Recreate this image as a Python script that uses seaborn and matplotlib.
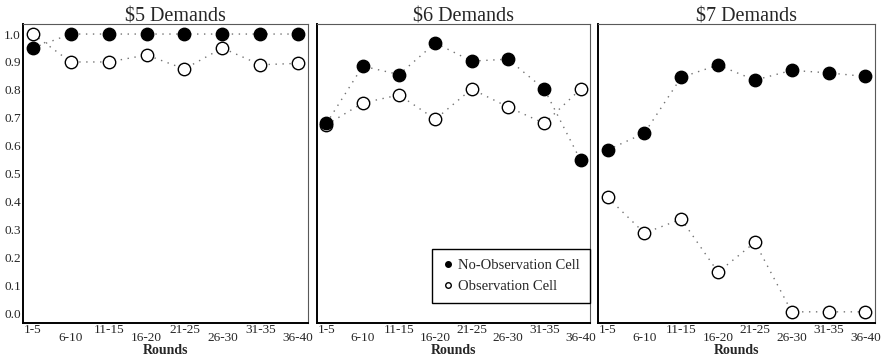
import pandas as pd
import seaborn as sns
import matplotlib.pyplot as plt
from matplotlib.lines import Line2D

rounds = ['1-5', '6-10', '11-15', '16-20', '21-25', '26-30', '31-35', '36-40']
demands = ['$5', '$6', '$7']

no_obs_5 = [0.95, 1.0, 1.0, 1.0, 1.0, 1.0, 1.0, 1.0]
obs_5 = [1.0, 0.90, 0.90, 0.925, 0.875, 0.95, 0.89, 0.895]
no_obs_6 = [0.68, 0.885, 0.855, 0.968, 0.903, 0.91, 0.803, 0.548]
obs_6 = [0.675, 0.753, 0.782, 0.695, 0.803, 0.739, 0.68, 0.803]
no_obs_7 = [0.585, 0.645, 0.845, 0.889, 0.835, 0.87, 0.861, 0.848]
obs_7 = [0.415, 0.287, 0.337, 0.147, 0.254, 0.005, 0.005, 0.005]

series = {
    ('$5', 'No-Observation Cell'): no_obs_5,
    ('$5', 'Observation Cell'): obs_5,
    ('$6', 'No-Observation Cell'): no_obs_6,
    ('$6', 'Observation Cell'): obs_6,
    ('$7', 'No-Observation Cell'): no_obs_7,
    ('$7', 'Observation Cell'): obs_7,
}

rows = []
for (d, cell), vals in series.items():
    for i, v in enumerate(vals):
        rows.append({'demand': d, 'cell': cell, 'round': i, 'share': v})
df = pd.DataFrame(rows)

sns.set_style('white')
plt.rcParams['font.family'] = ['Liberation Serif', 'DejaVu Serif']

fig = plt.figure(figsize=(8.87, 3.57), dpi=100)

# posizioni dei pannelli (in frazioni della figura)
lefts = [23 / 887, 317 / 887, 598 / 887]
widths = [285 / 887, 273 / 887, 277 / 887]
bottom = 1 - 323 / 357
height = (323 - 24) / 357

axes = []
for k, d in enumerate(demands):
    ax = fig.add_axes([lefts[k], bottom, widths[k], height])
    axes.append(ax)
    sub = df[df['demand'] == d]
    for cell in ['Observation Cell', 'No-Observation Cell']:
        s = sub[sub['cell'] == cell]
        sns.lineplot(data=s, x='round', y='share', ax=ax, color='0.45',
                     linestyle=(0, (1, 4)), linewidth=1, legend=False)
    s = sub[sub['cell'] == 'Observation Cell']
    sns.scatterplot(data=s, x='round', y='share', ax=ax, s=80,
                    facecolor='white', edgecolor='black', linewidth=1,
                    zorder=3, legend=False)
    s = sub[sub['cell'] == 'No-Observation Cell']
    sns.scatterplot(data=s, x='round', y='share', ax=ax, s=80,
                    color='black', edgecolor='black', linewidth=1,
                    zorder=4, legend=False)

    ax.set_xlim(-0.26, 7.26)
    ax.set_ylim(-0.035, 1.036)
    ax.set_xticks(range(len(rounds)))
    ax.set_xticklabels(rounds, fontsize=9.5)
    ax.set_yticks([i / 10 for i in range(11)])
    if k == 0:
        ax.set_yticklabels([f'{i / 10:.1f}' for i in range(11)], fontsize=9.5)
    else:
        ax.set_yticklabels([])
    ax.tick_params(axis='both', direction='in', length=7, width=1,
                   color='black', pad=1.5)
    ax.tick_params(axis='x', pad=0.5)
    for i, t in enumerate(ax.xaxis.get_major_ticks()):
        if i % 2 == 1:
            t.set_pad(6.5)
    for side in ['top', 'right']:
        ax.spines[side].set_linewidth(0.8)
        ax.spines[side].set_color('0.35')
    for side in ['left', 'bottom']:
        ax.spines[side].set_linewidth(1.4)
        ax.spines[side].set_color('black')
    ax.set_title(f'\\{d} Demands', fontsize=14.5, pad=2, x=0.535)
    ax.set_xlabel('Rounds', fontsize=10, fontweight='bold')
    ax.xaxis.set_label_coords(0.5, -0.071)
    ax.set_ylabel('')

handles = [
    Line2D([], [], marker='o', linestyle='none', markersize=4,
           markerfacecolor='black', markeredgecolor='black'),
    Line2D([], [], marker='o', linestyle='none', markersize=4,
           markerfacecolor='white', markeredgecolor='black'),
]
leg = axes[1].legend(handles, ['No-Observation Cell', 'Observation Cell'],
                     loc='lower right', bbox_to_anchor=(1.0, 0.067),
                     fontsize=10.5, frameon=True, fancybox=False,
                     edgecolor='black', framealpha=1, borderpad=0.7,
                     handletextpad=0.3, handlelength=0.8, labelspacing=0.5,
                     borderaxespad=0)
leg.get_frame().set_linewidth(1)

fig.savefig('out.png', dpi=100)
